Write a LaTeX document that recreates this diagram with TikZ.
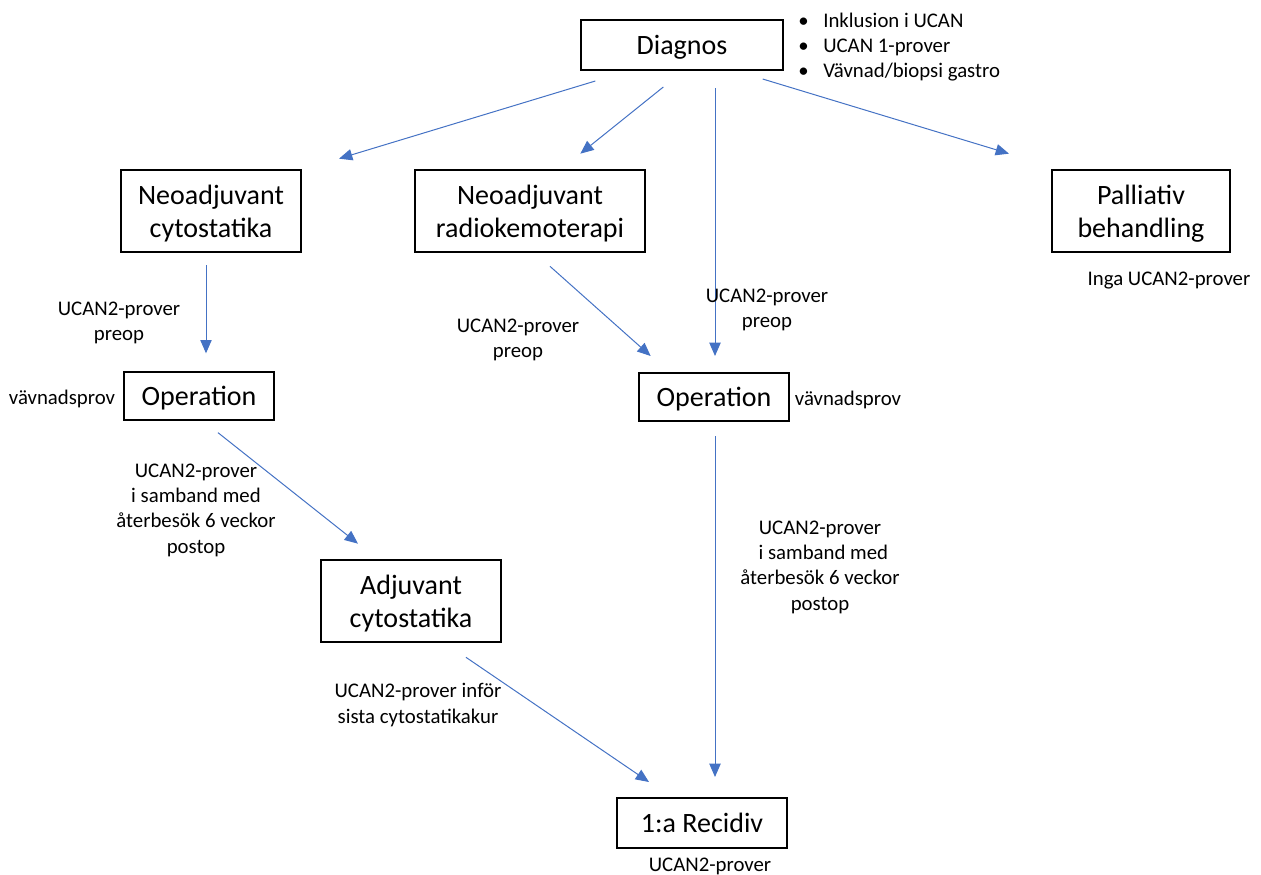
\documentclass[tikz,border=0pt]{standalone}
\usepackage{fontspec}
\setmainfont{Carlito}
\usetikzlibrary{arrows.meta, positioning, calc}
\definecolor{arrowblue}{RGB}{68, 114, 196}

\begin{document}
\begin{tikzpicture}[x=0.75pt, y=-0.75pt,
        every node/.style={font=\fontsize{15.6}{19}\selectfont, align=center, inner sep=0pt},
        box/.style={draw=black, line width=1.5pt, text depth=0pt, font=\fontsize{21}{25}\selectfont},
        arr/.style={draw=arrowblue, line width=0.75pt, -{Triangle[length=10pt, width=8.5pt]}}]
        \useasboundingbox (0,0) rectangle (1261,875);

        % BOXES
        \node[box, minimum width=151pt, minimum height=37.5pt] (diag) at (682,45) {Diagnos};
        \node[box, minimum width=135pt, minimum height=62pt] (neocyt) at (211,211) {Neoadjuvant\\cytostatika};
        \node[box, minimum width=172pt, minimum height=62pt] (neorad) at (530,211) {Neoadjuvant\\radiokemoterapi};
        \node[box, minimum width=133.5pt, minimum height=62pt] (pall) at (1141,211) {Palliativ\\behandling};
        \node[box, minimum width=112.5pt, minimum height=35.5pt] (opl) at (199,396) {Operation};
        \node[box, minimum width=113pt, minimum height=36pt] (opr) at (714,397) {Operation};
        \node[box, minimum width=135pt, minimum height=62pt] (adj) at (411,601) {Adjuvant\\cytostatika};
        \node[box, minimum width=127.5pt, minimum height=37.5pt] (rec) at (702,823) {1:a Recidiv};

        % ARROWS
        \draw[arr] ($(diag.south west)+(15,10)$) -- ($(neocyt.north east)+(37,-10)$);
        \draw[arr] ($(diag.south west)+(83,16)$) -- ($(neorad.north west)+(166,-15)$);
        \draw[arr] ($(diag.south)+(33,17)$) -- ($(opr.north)+(1,-16)$);
        \draw[arr] ($(diag.south east)+(-21,8)$) -- ($(pall.north west)+(-42,-15)$);
        \draw[arr] ($(neocyt.south)+(-5,12)$) -- ($(opl.north)+(7,-18)$);
        \draw[arr] ($(neorad.south)+(20,13)$) -- ($(opr.north west)+(13,-16)$);
        \draw[arr] ($(opl.south)+(19,12)$) -- ($(adj.north)+(-53,-15)$);
        \draw[arr] ($(opr.south)+(1,14)$) -- ($(rec.north)+(13,-20)$);
        \draw[arr] ($(adj.south)+(55,14)$) -- ($(rec.north west)+(33,-15)$);

        % LABELS
        \node[anchor=west, align=left] (diagnote) at (798,47)
            {\textbullet\hspace{11pt}Inklusion i UCAN\\\textbullet\hspace{11pt}UCAN 1-prover\\\textbullet\hspace{11pt}Vävnad/biopsi gastro};
        \node (preopl) at (119,323) {UCAN2-prover\\preop};
        \node (preopm) at (518,340) {UCAN2-prover\\preop};
        \node (preopr) at (767,310) {UCAN2-prover\\preop};
        \node (inga) at (1169,281) {Inga UCAN2-prover};
        \node (vavl) at (62,399) {vävnadsprov};
        \node (vavr) at (848,400) {vävnadsprov};
        \node (postopl) at (196,510) {UCAN2-prover\\i samband med\\återbesök 6 veckor\\postop};
        \node (postopr) at (820,567) {UCAN2-prover\\\hspace{5pt}i samband med\\återbesök 6 veckor\\postop};
        \node (infor) at (418,705) {UCAN2-prover inför\\sista cytostatikakur};
        \node (recnote) at (710,866) {UCAN2-prover};
\end{tikzpicture}
\end{document}
